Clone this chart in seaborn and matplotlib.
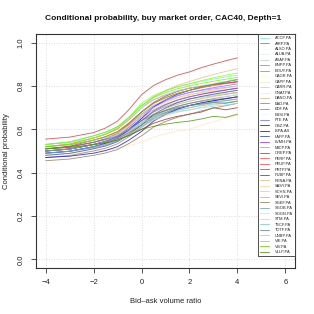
import numpy as np
import pandas as pd
import matplotlib
matplotlib.use("Agg")
import matplotlib.pyplot as plt
from matplotlib.lines import Line2D
import seaborn as sns

sns.set_theme(style="white")
plt.rcParams['font.family'] = ['Liberation Sans', 'DejaVu Sans']

# Bid-ask volume ratio grid
ratio = [-4, -3, -2, -1.5, -1, -0.5, 0, 0.5, 1, 1.5, 2, 2.5, 3, 3.5, 4]

tickers = ["ACCP.PA", "AIRP.PA", "ALSO.PA", "ALUA.PA", "AXAF.PA", "BNPP.PA", "BOUY.PA",
           "CAGR.PA", "CAPP.PA", "CARR.PA", "CNAT.PA", "DANO.PA", "EAD.PA", "EDF.PA",
           "ESSI.PA", "FTE.PA", "GSZ.PA", "ISPA.AS", "LAFP.PA", "LVMH.PA", "MICP.PA",
           "OREP.PA", "PERP.PA", "PEUP.PA", "PRTP.PA", "PUBP.PA", "RENA.PA", "SASY.PA",
           "SCHN.PA", "SEVI.PA", "SGEF.PA", "SGOB.PA", "SOGN.PA", "STM.PA", "TECF.PA",
           "TOTF.PA", "UNBP.PA", "VIE.PA", "VIV.PA", "VLLP.PA"]

colors = ["#76EEC6", "#458B74", "#F0FFFF", "#E0EEEE", "#C1CDCD", "#838B8B", "#838B83",
          "#FFF8DC", "#EEE8CD", "#FFC080", "#FFE4C4", "#CDB79E", "#8B7D6B", "#7F7F7F",
          "#F5F5F5", "#6A6AFF", "#0000FF", "#0000CD", "#27408B", "#8A2BE2", "#AB82FF",
          "#A52A2A", "#FF4040", "#EE3B3B", "#CD3333", "#8B2323", "#DEB887", "#FFD39B",
          "#EEC591", "#CDAA7D", "#8B7355", "#5F9EA0", "#98F5FF", "#8EE5EE", "#7AC5CD",
          "#53868B", "#7FFF00", "#76EE00", "#66CD00", "#458B00"]

ACCP = [.53, .542, .57, .587, .612, .657, .71, .75, .776, .796, .81, .822, .832, .841, .85]
AIRP = [.50, .509, .53, .543, .563, .598, .64, .68, .706, .726, .74, .749, .756, .763, .77]
ALSO = [.51, .519, .54, .554, .576, .614, .66, .696, .719, .737, .75, .759, .766, .773, .78]
ALUA = [.49, .499, .52, .533, .553, .588, .63, .67, .696, .716, .73, .739, .746, .753, .76]
AXAF = [.52, .529, .55, .564, .586, .624, .67, .706, .729, .747, .76, .769, .776, .783, .79]
BNPP = [.50, .509, .53, .544, .566, .604, .65, .69, .716, .736, .75, .762, .772, .781, .79]
BOUY = [.49, .498, .515, .528, .547, .58, .62, .66, .686, .706, .72, .729, .737, .743, .75]
CAGR = [.51, .519, .54, .553, .573, .608, .65, .686, .709, .727, .74, .749, .757, .763, .77]
CAPP = [.52, .529, .55, .563, .583, .618, .66, .696, .719, .737, .75, .759, .767, .773, .78]
CARR = [.51, .519, .54, .554, .576, .614, .66, .70, .726, .746, .76, .772, .782, .791, .80]
CNAT = [.485, .49, .50, .505, .512, .525, .54, .564, .58, .592, .60, .62, .636, .651, .665]
DANO = [.50, .509, .53, .541, .557, .586, .62, .652, .673, .689, .70, .712, .722, .731, .74]
EAD = [.47, .479, .50, .513, .533, .568, .61, .65, .676, .696, .71, .722, .732, .741, .75]
EDF = [.49, .499, .52, .533, .553, .588, .63, .666, .689, .707, .72, .732, .742, .751, .76]
ESSI = [.50, .509, .53, .542, .56, .592, .63, .67, .696, .716, .73, .739, .747, .753, .76]
FTE = [.50, .509, .53, .546, .569, .611, .66, .704, .733, .755, .77, .782, .792, .801, .81]
GSZ = [.49, .499, .52, .536, .559, .601, .65, .702, .736, .762, .78, .795, .808, .819, .83]
ISPA = [.47, .476, .49, .502, .52, .552, .59, .638, .669, .693, .71, .722, .732, .741, .75]
LAFP = [.48, .489, .51, .523, .543, .578, .62, .668, .699, .723, .74, .752, .762, .771, .78]
LVMH = [.50, .509, .53, .543, .563, .598, .64, .684, .713, .735, .75, .762, .772, .781, .79]
MICP = [.51, .519, .54, .556, .579, .621, .67, .71, .736, .756, .77, .779, .787, .793, .80]
OREP = [.51, .522, .55, .566, .589, .631, .68, .724, .753, .775, .79, .799, .807, .813, .82]
PERP = [.52, .532, .56, .577, .602, .647, .70, .736, .759, .777, .79, .799, .807, .813, .82]
PEUP = [.51, .519, .54, .557, .582, .627, .68, .72, .746, .766, .78, .792, .802, .811, .82]
PRTP = [.555, .564, .585, .606, .638, .694, .76, .802, .829, .85, .865, .885, .901, .916, .93]
PUBP = [.50, .509, .53, .538, .551, .573, .60, .628, .646, .66, .67, .68, .70, .69, .70]
RENA = [.53, .539, .56, .577, .602, .647, .70, .748, .779, .803, .82, .838, .853, .867, .88]
SASY = [.52, .529, .55, .563, .583, .618, .66, .70, .726, .746, .76, .772, .782, .791, .80]
SCHN = [.51, .516, .53, .54, .554, .58, .61, .642, .663, .679, .69, .702, .712, .721, .73]
SEVI = [.50, .509, .53, .542, .56, .592, .63, .67, .696, .716, .73, .742, .752, .761, .77]
SGEF = [.455, .463, .48, .491, .507, .536, .57, .61, .636, .656, .67, .685, .698, .709, .72]
SGOB = [.50, .509, .53, .541, .557, .586, .62, .656, .679, .697, .71, .719, .727, .733, .74]
SOGN = [.53, .542, .57, .586, .609, .651, .70, .736, .759, .777, .79, .802, .812, .821, .83]
STM = [.52, .529, .55, .56, .574, .60, .63, .654, .67, .682, .69, .699, .707, .713, .72]
TECF = [.49, .499, .52, .531, .547, .576, .61, .646, .669, .687, .70, .709, .717, .723, .73]
TOTF = [.51, .519, .54, .552, .57, .602, .64, .668, .686, .70, .71, .716, .724, .72, .73]
UNBP = [.52, .532, .56, .579, .608, .659, .72, .756, .779, .797, .81, .825, .838, .849, .86]
VIE = [.53, .542, .57, .587, .612, .657, .71, .746, .769, .787, .80, .812, .822, .831, .84]
VIV = [.52, .529, .55, .566, .589, .631, .68, .72, .746, .766, .78, .795, .808, .819, .83]
VLLP = [.51, .516, .53, .538, .551, .573, .60, .614, .624, .632, .638, .648, .66, .655, .67]

series = [ACCP, AIRP, ALSO, ALUA, AXAF, BNPP, BOUY, CAGR, CAPP, CARR, CNAT, DANO, EAD,
          EDF, ESSI, FTE, GSZ, ISPA, LAFP, LVMH, MICP, OREP, PERP, PEUP, PRTP, PUBP,
          RENA, SASY, SCHN, SEVI, SGEF, SGOB, SOGN, STM, TECF, TOTF, UNBP, VIE, VIV, VLLP]

rows = []
for t, vals in zip(tickers, series):
    for xv, yv in zip(ratio, vals):
        rows.append((t, xv, yv))
df = pd.DataFrame(rows, columns=["ticker", "ratio", "prob"])
palette = dict(zip(tickers, colors))

fig = plt.figure(figsize=(3.14, 3.14), dpi=100)
ax = fig.add_axes([36/314, 1-268/314, 259/314, 234/314])

sns.lineplot(data=df, x="ratio", y="prob", hue="ticker", palette=palette,
             estimator=None, sort=False, linewidth=0.65, alpha=0.75, ax=ax, legend=False)

ax.set_xlim(-4.4, 6.4)
ax.set_ylim(-0.04, 1.04)
ax.set_xticks([-4, -2, 0, 2, 4, 6])
ax.set_xticklabels(["\u22124", "\u22122", "0", "2", "4", "6"])
ax.set_yticks([0.0, 0.2, 0.4, 0.6, 0.8, 1.0])
ax.set_yticklabels(["0.0", "0.2", "0.4", "0.6", "0.8", "1.0"], rotation=90, va="center")
ax.grid(True, color="#d3d3d3", linestyle=(0, (1, 2)), linewidth=0.6)
for s in ax.spines.values():
    s.set_color("#333333")
    s.set_linewidth(0.8)
ax.tick_params(axis="both", direction="out", length=3.5, width=0.6, color="#333333",
               labelsize=5.5, pad=4.5, labelcolor="#222222", bottom=True, left=True)

ax.set_xlabel("Bid\u2013ask volume ratio", fontsize=5.5, color="#222222")
ax.set_ylabel("Conditional probability", fontsize=5.5, color="#222222")
ax.xaxis.set_label_coords(0.5, -0.13)
ax.yaxis.set_label_coords(-0.10, 0.5)

fig.text(163/314, 1-19/314, "Conditional probability, buy market order, CAC40, Depth=1",
         ha="center", va="center", fontsize=6.0, fontweight="bold", color="#111111")

handles = [Line2D([0], [0], color=c, lw=0.7, alpha=0.75) for c in colors]
leg = ax.legend(handles, tickers, loc="upper right", fontsize=2.9, frameon=True,
                fancybox=False, borderaxespad=0, borderpad=0.5, labelspacing=0.37,
                handlelength=2.4, handletextpad=1.4, framealpha=1)
leg.get_frame().set_edgecolor("#333333")
leg.get_frame().set_linewidth(0.6)

fig.savefig("out.png", dpi=100)
